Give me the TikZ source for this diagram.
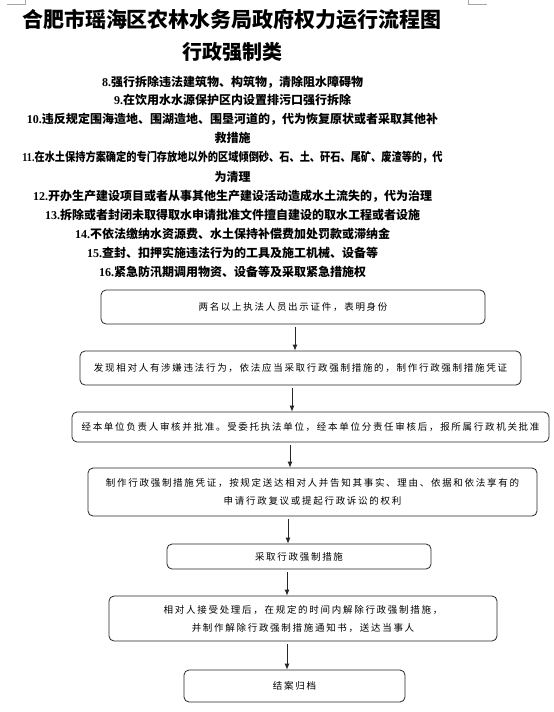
\documentclass[tikz,border=0pt]{standalone}
\usepackage{fontspec}
\usepackage{graphicx}
\usetikzlibrary{arrows.meta}
\newfontfamily\cjk{Noto Sans CJK SC}
\newfontfamily\boxcjk[LetterSpace=18]{Noto Sans CJK SC}
\newfontfamily\numfont{Liberation Serif}
\newcommand{\nm}[1]{{\numfont\bfseries #1}}
\tikzset{
  box/.style={draw=black!85, rounded corners=5pt, line width=0.8pt, inner sep=0pt, align=center,
    font=\boxcjk\fontsize{9.5}{18}\selectfont},
  item/.style={inner sep=0pt, font=\cjk\bfseries\fontsize{12}{14}\selectfont},
  ttl/.style={inner sep=0pt, font=\cjk\bfseries\fontsize{21}{24}\selectfont},
  arr/.style={-{Latex[length=6pt,width=5pt]}, line width=0.8pt, black!85, shorten <=3pt}
}
\begin{document}
\begin{tikzpicture}[x=1pt,y=-1pt]
\useasboundingbox (0,0) rectangle (554,712);
% crop marks
\draw[black!35, line width=0.5pt] (7,4) -- (25,4) -- (25,0);
\draw[black!35, line width=0.5pt] (468,0) -- (468,4) -- (487,4);
% title
\node[ttl] (t1) at (232,20) {合肥市瑶海区农林水务局政府权力运行流程图};
\node[ttl, font=\cjk\bfseries\fontsize{20}{24}\selectfont] (t2) at (232,52) {行政强制类};
% items
\node[item] (i8) at (232.5,82) {\nm{8.}强行拆除违法建筑物、构筑物，清除阻水障碍物};
\node[item] (i9) at (232.5,100) {\nm{9.}在饮用水水源保护区内设置排污口强行拆除};
\node[item] (i10) at (232.5,119) {\nm{10.}违反规定围海造地、围湖造地、围垦河道的，代为恢复原状或者采取其他补};
\node[item] (i10b) at (232.5,138) {救措施};
\node[item] (i11) at (232.5,157) {\scalebox{0.85}[1]{\nm{11.}在水土保持方案确定的专门存放地以外的区域倾倒砂、石、土、矸石、尾矿、废渣等的，代}};
\node[item] (i11b) at (232.5,177) {为清理};
\node[item] (i12) at (232.5,196) {\nm{12.}开办生产建设项目或者从事其他生产建设活动造成水土流失的，代为治理};
\node[item] (i13) at (232.5,215) {\nm{13.}拆除或者封闭未取得取水申请批准文件擅自建设的取水工程或者设施};
\node[item] (i14) at (232.5,234) {\nm{14.}不依法缴纳水资源费、水土保持补偿费加处罚款或滞纳金};
\node[item] (i15) at (232.5,253) {\nm{15.}查封、扣押实施违法行为的工具及施工机械、设备等};
\node[item] (i16) at (232.5,272) {\nm{16.}紧急防汛期调用物资、设备等及采取紧急措施权};
% boxes
\node[box, minimum width=384pt, minimum height=34pt] (b1) at (293,307) {两名以上执法人员出示证件，表明身份};
\node[box, minimum width=441pt, minimum height=34pt] (b2) at (300.5,368) {发现相对人有涉嫌违法行为，依法应当采取行政强制措施的，制作行政强制措施凭证};
\node[box, minimum width=477pt, minimum height=30pt] (b3) at (310.5,427) {经本单位负责人审核并批准。受委托执法单位，经本单位分责任审核后，报所属行政机关批准};
\node[box, minimum width=449pt, minimum height=48pt] (b4) at (312.5,492) {制作行政强制措施凭证，按规定送达相对人并告知其事实、理由、依据和依法享有的\\申请行政复议或提起行政诉讼的权利};
\node[box, minimum width=264pt, minimum height=25pt] (b5) at (299,556.5) {采取行政强制措施};
\node[box, minimum width=388pt, minimum height=45pt] (b6) at (303,618.5) {相对人接受处理后，在规定的时间内解除行政强制措施，\\并制作解除行政强制措施通知书，送达当事人};
\node[box, minimum width=221pt, minimum height=32pt] (b7) at (294.5,686) {结案归档};
% arrows
\draw[arr] (b1.south -| 295,0) -- (b2.north -| 295,0);
\draw[arr] (b2.south -| 292,0) -- (b3.north -| 292,0);
\draw[arr] (b3.south -| 290,0) -- (b4.north -| 290,0);
\draw[arr] (b4.south -| 288,0) -- (b5.north -| 288,0);
\draw[arr] (b5.south -| 287,0) -- (b6.north -| 287,0);
\draw[arr] (b6.south -| 287,0) -- (b7.north -| 287,0);
\end{tikzpicture}
\end{document}
